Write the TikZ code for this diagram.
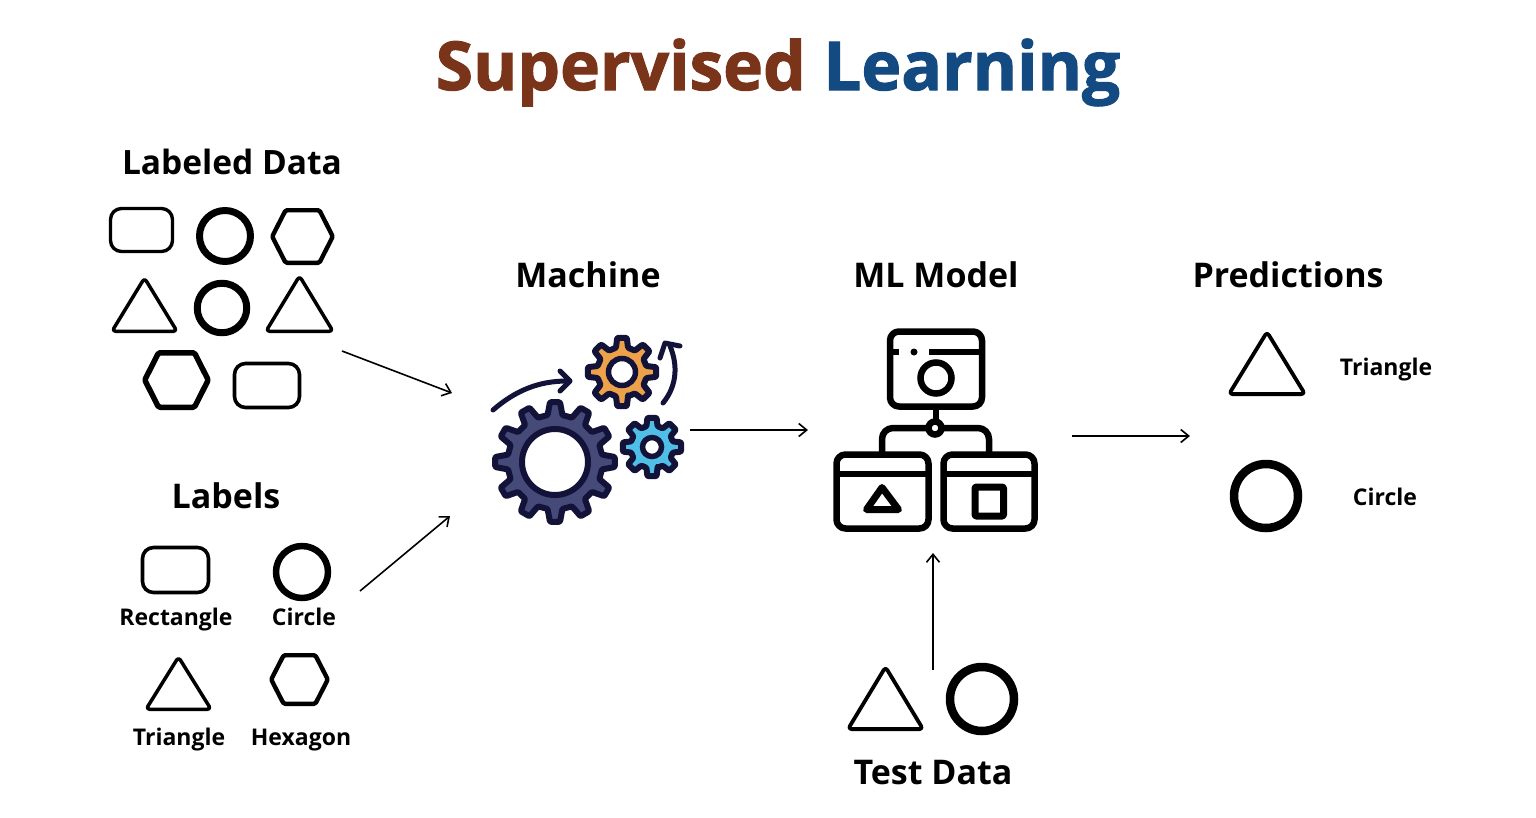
\documentclass[tikz,border=0pt]{standalone}
\usepackage{fontspec}
\usetikzlibrary{arrows.meta}
\setmainfont{Open Sans}
\newfontfamily\titlefont[FakeBold=1.6]{Open Sans}
\definecolor{titlered}{HTML}{7A3419}
\definecolor{titleblue}{HTML}{144A82}
\definecolor{navy}{HTML}{13133A}
\definecolor{gearbig}{HTML}{464A78}
\definecolor{gearorange}{HTML}{EDA24A}
\definecolor{gearblue}{HTML}{4FBFE8}
\newcommand{\fs}[1]{\fontsize{#1pt}{#1pt}\selectfont\bfseries}
\tikzset{
  outline/.style={draw=black,line join=round,fill=white},
  headtext/.style={anchor=base,font=\fs{34},text=black,inner sep=0pt},
  smalltext/.style={anchor=base,font=\fs{23},text=black,inner sep=0pt},
  flow/.style={draw=black,line width=1.6pt,-{Straight Barb[length=8pt,width=13pt]}},
  rrect/.style={outline,rounded corners=11pt,inner sep=0pt},
  ring/.style={outline,circle,inner sep=0pt},
  ico/.style={draw=black,line width=6.5pt,line join=round,line cap=round},
  curved/.style={draw=navy,line width=5pt,line cap=round,line join=round}
}
% x1 x2 y1 y2 lw : bounding box of the stroke
\newcommand{\trishape}[5]{%
  \draw[outline,line width=#5pt,rounded corners=3.5pt]
    ({(#1+#2)/2},{#3-1}) -- ({#2+1},{#4-#5/2}) -- ({#1-1},{#4-#5/2}) -- cycle;}
\newcommand{\hexshape}[5]{%
  \draw[outline,line width=#5pt,rounded corners=1.5pt]
    ({#1+#5/2},{(#3+#4)/2}) -- ({#1+(#2-#1)*0.24},{#3+#5/2}) -- ({#2-(#2-#1)*0.24},{#3+#5/2})
    -- ({#2-#5/2},{(#3+#4)/2}) -- ({#2-(#2-#1)*0.24},{#4-#5/2}) -- ({#1+(#2-#1)*0.24},{#4-#5/2}) -- cycle;}
% cx cy R r teeth a1 a2 fill rot
\newcommand{\gearshape}[9]{%
  \begin{scope}[shift={(#1,#2)},rotate=#9]
  \draw[draw=navy,fill=#8,line width=6pt,line join=round,rounded corners=1pt]
    ({-#7}:#4)
    \foreach \i in {0,...,\numexpr#5-1\relax}{
      -- ({\i*360/#5-#7}:#4) -- ({\i*360/#5-#6}:#3) -- ({\i*360/#5+#6}:#3) -- ({\i*360/#5+#7}:#4)
    } -- cycle;
  \end{scope}}
\begin{document}
\begin{tikzpicture}[x=1pt,y=-1pt]
\useasboundingbox (0,0) rectangle (1536,817);
\fill[white] (0,0) rectangle (1536,817);
% Title
\node[anchor=base,font=\fontsize{67.5pt}{67.5pt}\selectfont\titlefont\bfseries,inner sep=0pt] (title) at (778,90)
  {\textcolor{titlered}{Supervised} \textcolor{titleblue}{Learning}};
% Headings
\node[headtext,font=\fs{33.5}] (hlabeled) at (232,174.5) {Labeled Data};
\node[headtext] (hlabels) at (226,508.5) {Labels};
\node[headtext] (hmachine) at (588,287) {Machine};
\node[headtext] (hmodel) at (936,287) {ML Model};
\node[headtext] (hpred) at (1288,287) {Predictions};
\node[headtext] (htest) at (933,784) {Test Data};
% Small labels
\node[smalltext] (l1) at (176,625) {Rectangle};
\node[smalltext] (l2) at (304,625) {Circle};
\node[smalltext] (l3) at (179,745) {Triangle};
\node[smalltext] (l4) at (301,745) {Hexagon};
\node[smalltext] (p1) at (1386,375.5) {Triangle};
\node[smalltext] (p2) at (1385,505.5) {Circle};
% Labeled data shapes
\node[rrect,line width=3.4pt,minimum width=62pt,minimum height=43pt] (d1) at (141.5,230) {};
\node[ring,line width=7pt,minimum size=51pt] (d2) at (225,236) {};
\hexshape{270}{335}{208}{265}{4.4}
\trishape{113}{176}{279}{333}{3.5}
\node[ring,line width=7pt,minimum size=49.5pt] (d3) at (222,308) {};
\trishape{267}{332}{277}{333}{3.5}
\hexshape{142}{211}{350}{410}{5.5}
\node[rrect,line width=3.6pt,minimum width=65pt,minimum height=44pt] (d4) at (267,385.5) {};
% Label shapes
\node[rrect,line width=3.6pt,minimum width=66pt,minimum height=45pt] (k1) at (175.5,570) {};
\node[ring,line width=6.5pt,minimum size=52pt] (k2) at (302,572) {};
\trishape{147}{210}{658}{711}{3.5}
\hexshape{269}{330}{653}{706}{4.4}
% Test data shapes
\trishape{849}{922}{668}{731}{3.8}
\node[ring,line width=8.5pt,minimum size=64pt] (t2) at (982,699) {};
% Prediction shapes
\trishape{1230}{1304}{333}{396}{3.8}
\node[ring,line width=8.5pt,minimum size=64pt] (r2) at (1266,496) {};
% Gears
\gearshape{555}{462}{60}{47.5}{12}{4.8}{9}{gearbig}{0}
\node[circle,draw=navy,fill=white,line width=6pt,minimum size=66pt,inner sep=0pt] (gb) at (555,462) {};
\gearshape{622}{372}{34.5}{25}{8}{8}{14}{gearorange}{-90}
\node[circle,draw=navy,fill=white,line width=5.5pt,minimum size=27pt,inner sep=0pt] (go) at (622,372) {};
\gearshape{652}{447}{29.5}{21.5}{8}{9}{15}{gearblue}{-90}
\node[circle,draw=navy,fill=white,line width=5.5pt,minimum size=19pt,inner sep=0pt] (gc) at (652,447) {};
\draw[curved] (493,410) .. controls (515,391) and (538,381) .. (567,381);
\draw[curved] (560,371) -- (570,381) -- (560,391);
\draw[curved] (663,403) .. controls (677,386) and (678,365) .. (670,346);
\draw[curved] (660,358) -- (665,343) -- (680,346);
% ML model icon
\draw[ico,rounded corners=9pt] (890,331.5) rectangle (982,406.5);
\draw[ico,line cap=butt] (890,352) -- (899,352);
\draw[ico,line cap=butt] (929,352) -- (982,352);
\fill (914,352) circle (3.5pt);
\node[circle,draw=black,fill=white,line width=6.5pt,minimum size=31pt,inner sep=0pt] (mc) at (936,378) {};
\draw[ico,rounded corners=11pt] (882,454) -- (882,428) -- (989,428) -- (989,454);
\draw[ico,line cap=butt] (936,406) -- (936,428);
\node[circle,draw=black,fill=white,line width=6.5pt,minimum size=13pt,inner sep=0pt] (mj) at (935,428) {};
\draw[ico,fill=white,rounded corners=9pt] (836.5,454.5) rectangle (928.5,528.5);
\draw[ico,fill=white,rounded corners=9pt] (943.5,454.5) rectangle (1034.5,528.5);
\draw[ico,line cap=butt] (836.5,474) -- (928.5,474);
\draw[ico,line cap=butt] (943.5,474) -- (1034.5,474);
\draw[ico,line width=7pt] (882,487.5) -- (898.5,509.5) -- (866.5,509.5) -- cycle;
\draw[ico,line width=7pt,rounded corners=1pt] (975,487) rectangle (1003.5,516);
% Connectors
\coordinate (a1s) at (342,351); \coordinate (a1e) at (452,393);
\coordinate (a2s) at (360,591); \coordinate (a2e) at (450,516);
\coordinate (a3s) at (690,430); \coordinate (a3e) at (808,430);
\coordinate (a4s) at (1072,436); \coordinate (a4e) at (1190,436);
\coordinate (a5s) at (933,670); \coordinate (a5e) at (933,553);
\draw[flow] (a1s) -- (a1e);
\draw[flow] (a2s) -- (a2e);
\draw[flow] (a3s) -- (a3e);
\draw[flow] (a4s) -- (a4e);
\draw[flow] (a5s) -- (a5e);
\end{tikzpicture}
\end{document}
